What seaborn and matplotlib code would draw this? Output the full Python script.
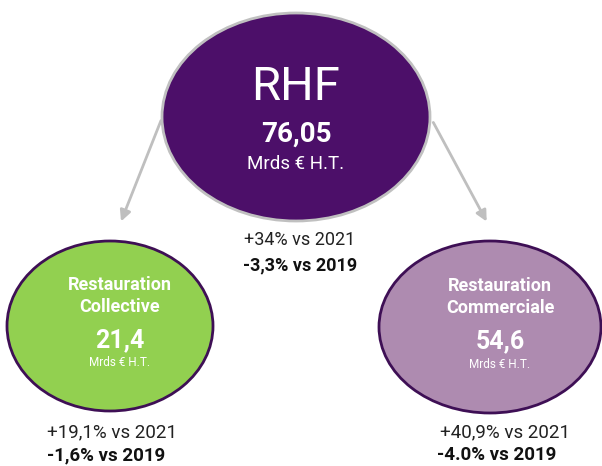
import matplotlib
matplotlib.use("Agg")
import matplotlib.pyplot as plt
from matplotlib.patches import Ellipse, FancyArrowPatch
import seaborn as sns

sns.set_theme(style="white")
plt.rcParams['font.family'] = ['Roboto', 'DejaVu Sans']

# data
segments = ["RHF", "Restauration\nCollective", "Restauration\nCommerciale"]
values = ["76,05", "21,4", "54,6"]
unit = "Mrds € H.T."
vs_2021 = ["+34% vs 2021", "+19,1% vs 2021", "+40,9% vs 2021"]
vs_2019 = ["-3,3% vs 2019", "-1,6% vs 2019", "-4.0% vs 2019"]
fills = ["#4c0f69", "#92d050", "#ae8bb0"]
edges = ["#c0c0c0", "#3e0f55", "#3e0f55"]

fig = plt.figure(figsize=(6.02, 4.66), dpi=100)
ax = fig.add_axes([0, 0, 1, 1])
ax.set_xlim(0, 602)
ax.set_ylim(466, 0)
ax.axis('off')

# layout (pixels)
centers = [(296, 117), (110, 326), (490, 327)]
sizes = [(268, 208), (206, 170), (222, 172)]

for (cx, cy), (w, h), fc, ec in zip(centers, sizes, fills, edges):
    ax.add_patch(Ellipse((cx, cy), w, h, facecolor=fc, edgecolor=ec, lw=2, zorder=2))

# arrows
for start, end in [((162, 118), (120, 224)), ((432, 120), (488, 224))]:
    ax.add_patch(FancyArrowPatch(start, end, arrowstyle='-|>', mutation_scale=16,
                                 color='#bfbfbf', lw=2, zorder=1))

# top ellipse text
ax.text(296, 87, segments[0], ha='center', va='center', color='white', fontsize=34, zorder=3)
ax.text(296, 134, values[0], ha='center', va='center', color='white', fontsize=20,
        weight='bold', zorder=3)
ax.text(296, 164, unit, ha='center', va='center', color='white', fontsize=13.5, zorder=3)
ax.text(300, 240, vs_2021[0], ha='center', va='center', color='#222222', fontsize=13)
ax.text(300, 265, vs_2019[0], ha='center', va='center', color='#111111', fontsize=13,
        weight='bold')

# child ellipses text
for i, (cx, cy) in enumerate(centers[1:], start=1):
    ax.text(cx + 10, cy - 30, segments[i], ha='center', va='center', color='white',
            fontsize=13, weight='bold', linespacing=1.35, zorder=3)
    ax.text(cx + 10, cy + 14, values[i], ha='center', va='center', color='white',
            fontsize=18, weight='bold', zorder=3)
    ax.text(cx + 10, cy + 37, unit, ha='center', va='center', color='white',
            fontsize=8.5, zorder=3)

ax.text(112, 432, vs_2021[1], ha='center', va='center', color='#222222', fontsize=13.5)
ax.text(106, 455, vs_2019[1], ha='center', va='center', color='#111111', fontsize=13.5,
        weight='bold')
ax.text(505, 432, vs_2021[2], ha='center', va='center', color='#222222', fontsize=13.5)
ax.text(497, 455, vs_2019[2], ha='center', va='center', color='#111111', fontsize=13.5,
        weight='bold')

fig.savefig('out.png', dpi=100, facecolor='white')
